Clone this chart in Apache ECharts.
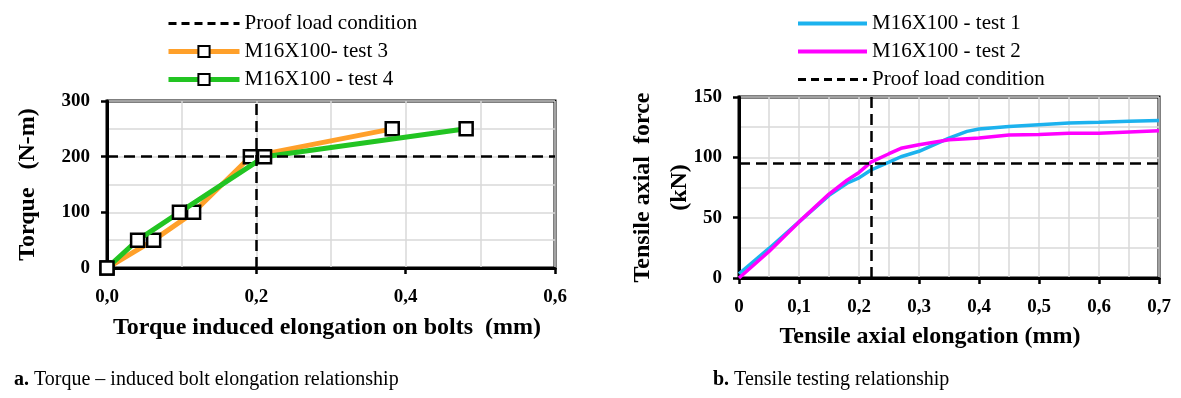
<!DOCTYPE html>
<html>
<head>
<meta charset="utf-8">
<script src="https://cdn.jsdelivr.net/npm/echarts@6/dist/echarts.min.js"></script>
<style>
  html, body { margin: 0; padding: 0; background: #fff; }
  #chart { width: 1181px; height: 398px; }
</style>
</head>
<body>
<div id="chart"></div>
<script>
// --- left: torque vs. torque induced elongation ---
const torqueLevels = [0, 50, 100, 200, 250];
const test3Elong = [0, 0.0625, 0.116, 0.192, 0.382];
const test4Elong = [0, 0.041, 0.097, 0.211, 0.481];
const proofTorque = 200;
const proofTorqueElong = 0.2;

// --- right: tensile test ---
const tensileElong = [0, 0.05, 0.1, 0.15, 0.18, 0.2, 0.22, 0.25, 0.27, 0.3, 0.35, 0.38, 0.4, 0.45, 0.5, 0.55, 0.6, 0.65, 0.7];
const test1Force = [3.5, 24.5, 46.5, 68.5, 78.5, 83, 89.5, 96, 100.5, 105, 116, 121.5, 123.5, 125.5, 127, 128.5, 129, 130, 130.5];
const test2Force = [0, 22, 46.5, 69.5, 81, 87.5, 96, 103, 107.5, 110.5, 114.5, 115.5, 116, 118.5, 119, 120, 120, 121, 122];
const proofForce = 95;
const proofForceElong = 0.22;

const serif = '"Liberation Serif", "DejaVu Serif", serif';

const pairs = (xs, ys) => xs.map((x, i) => [x, ys[i]]);
const comma = (v, d) => v === 0 && d === 0 ? '0' : v.toFixed(1).replace('.', ',');

const labelStyle = { color: '#000', fontFamily: serif, fontWeight: 'bold', fontSize: 19, margin: 20 };
const nameStyle = { color: '#000', fontFamily: serif, fontWeight: 'bold', fontSize: 24 };

// shared axis look
function axisBase(extra) {
  return Object.assign({
    type: 'value',
    axisLine: { show: true, onZero: false, lineStyle: { color: '#000', width: 3 } },
    axisTick: { show: true, inside: false, length: 6, lineStyle: { color: '#000', width: 2.5 } },
    splitLine: { show: true, lineStyle: { color: '#d9d9d9', width: 1.5 } },
    minorTick: { show: false, splitNumber: 2 },
    minorSplitLine: { show: true, lineStyle: { color: '#d9d9d9', width: 1.5 } },
    axisLabel: labelStyle,
    nameLocation: 'middle',
    nameMoveOverlap: false,
    nameTextStyle: nameStyle
  }, extra);
}

const proofLine = {
  silent: true,
  symbol: 'none',
  label: { show: false },
  lineStyle: { color: '#000', type: [11, 6], width: 2.5 },
  emphasis: { disabled: true }
};

const squareMarker = {
  symbol: 'rect',
  symbolSize: 13,
  itemStyle: { color: '#fff', borderColor: '#000', borderWidth: 2.5 }
};

const legendText = { color: '#000', fontFamily: serif, fontSize: 21, lineHeight: 20 };
const noSymbol = { opacity: 0 };

const option = {
  animation: false,
  backgroundColor: '#fff',
  grid: [
    { left: 107, top: 101, width: 448, height: 167, show: true, borderColor: '#000', borderWidth: 3, backgroundColor: 'transparent' },
    { left: 739, top: 97, width: 420, height: 181, show: true, borderColor: '#000', borderWidth: 3, backgroundColor: 'transparent' }
  ],
  legend: [
    {
      orient: 'vertical', left: 161, top: 8, itemWidth: 71, itemHeight: 14, itemGap: 7,
      data: [
        { name: 'Proof load condition', itemStyle: noSymbol, lineStyle: { width: 3 } },
        { name: 'M16X100- test 3', lineStyle: { width: 5 } },
        { name: 'M16X100 - test 4', lineStyle: { width: 5 } }
      ],
      textStyle: legendText
    },
    {
      orient: 'vertical', left: 791, top: 8, itemWidth: 69, itemHeight: 14, itemGap: 7,
      data: [
        { name: 'M16X100 - test 1', itemStyle: noSymbol, lineStyle: { width: 4 } },
        { name: 'M16X100 - test 2', itemStyle: noSymbol, lineStyle: { width: 4 } },
        { name: 'Proof load condition ', itemStyle: noSymbol, lineStyle: { width: 3 } }
      ],
      textStyle: legendText
    }
  ],
  xAxis: [
    axisBase({
      gridIndex: 0, min: 0, max: 0.6, interval: 0.2,
      name: 'Torque induced elongation on bolts  (mm)', nameGap: 48,
      nameTextStyle: Object.assign({}, nameStyle, { padding: [0, 8, 0, 0] }),
      axisLabel: Object.assign({}, labelStyle, { formatter: v => comma(v, 1) })
    }),
    axisBase({
      gridIndex: 1, min: 0, max: 0.7, interval: 0.1,
      name: 'Tensile axial elongation (mm)', nameGap: 47,
      nameTextStyle: Object.assign({}, nameStyle, { padding: [0, 38, 0, 0] }),
      axisLabel: Object.assign({}, labelStyle, { formatter: v => comma(v, v === 0 ? 0 : 1) })
    })
  ],
  yAxis: [
    axisBase({
      gridIndex: 0, min: 0, max: 300, interval: 100,
      name: 'Torque   (N-m)', nameGap: 67,
      axisLabel: Object.assign({}, labelStyle, { margin: 17 })
    }),
    axisBase({
      gridIndex: 1, min: 0, max: 150, interval: 50,
      name: 'Tensile axial  force\n(kN)', nameGap: 41,
      nameTextStyle: Object.assign({}, nameStyle, { lineHeight: 37 }),
      axisLabel: Object.assign({}, labelStyle, { margin: 17 })
    })
  ],
  series: [
    {
      name: 'Proof load condition', type: 'line', xAxisIndex: 0, yAxisIndex: 0,
      data: [], symbol: 'none',
      lineStyle: { color: '#000', type: [8, 5], width: 3 },
      itemStyle: { color: '#000' },
      markLine: Object.assign({}, proofLine, { data: [{ yAxis: proofTorque }, { xAxis: proofTorqueElong }] })
    },
    Object.assign({
      name: 'M16X100- test 3', type: 'line', xAxisIndex: 0, yAxisIndex: 0,
      data: pairs(test3Elong, torqueLevels),
      lineStyle: { color: '#FFA02A', width: 5 }, z: 3
    }, squareMarker),
    Object.assign({
      name: 'M16X100 - test 4', type: 'line', xAxisIndex: 0, yAxisIndex: 0,
      data: pairs(test4Elong, torqueLevels),
      lineStyle: { color: '#22C422', width: 5 }, z: 4
    }, squareMarker),
    {
      name: 'M16X100 - test 1', type: 'line', xAxisIndex: 1, yAxisIndex: 1,
      data: pairs(tensileElong, test1Force), symbol: 'none',
      lineStyle: { color: '#1CB2EE', width: 3.5 }, itemStyle: { color: '#1CB2EE' }
    },
    {
      name: 'M16X100 - test 2', type: 'line', xAxisIndex: 1, yAxisIndex: 1,
      data: pairs(tensileElong, test2Force), symbol: 'none',
      lineStyle: { color: '#FF00FF', width: 3.5 }, itemStyle: { color: '#FF00FF' }
    },
    {
      name: 'Proof load condition ', type: 'line', xAxisIndex: 1, yAxisIndex: 1,
      data: [], symbol: 'none',
      lineStyle: { color: '#000', type: [8, 5], width: 3 },
      itemStyle: { color: '#000' },
      markLine: Object.assign({}, proofLine, { data: [{ yAxis: proofForce }, { xAxis: proofForceElong }] })
    }
  ],
  graphic: [
    {
      type: 'text', left: 14, top: 370,
      style: {
        text: '{b|a.} Torque – induced bolt elongation relationship',
        fill: '#000', font: '20px ' + serif,
        rich: { b: { fontWeight: 'bold', fontSize: 20, fontFamily: serif } }
      }
    },
    {
      type: 'text', left: 713, top: 370,
      style: {
        text: '{b|b.} Tensile testing relationship',
        fill: '#000', font: '20px ' + serif,
        rich: { b: { fontWeight: 'bold', fontSize: 20, fontFamily: serif } }
      }
    }
  ]
};

const myChart = echarts.init(document.getElementById('chart'), null, { renderer: 'canvas' });
myChart.setOption(option);
</script>
</body>
</html>
